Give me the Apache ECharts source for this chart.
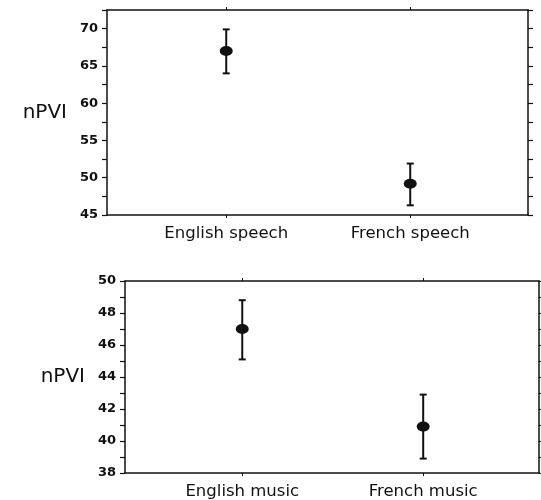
<!DOCTYPE html>
<html>
<head>
<meta charset="utf-8">
<script src="https://cdn.jsdelivr.net/npm/echarts@6/dist/echarts.min.js"></script>
<style>
  html, body { margin: 0; padding: 0; background: #fff; }
  #main { width: 541px; height: 500px; }
</style>
</head>
<body>
<div id="main"></div>
<script>
// top panel: speech
var speechCats = ["English speech", "French speech"];
var speechMean = [67.0, 49.2];
var speechLow = [64.0, 46.3];
var speechHigh = [69.9, 51.9];

// bottom panel: music
var musicCats = ["English music", "French music"];
var musicMean = [47.0, 40.9];
var musicLow = [45.1, 38.9];
var musicHigh = [48.8, 42.9];

var ink = "#111";
var font = "DejaVu Sans, Liberation Sans, Arial, sans-serif";

function errData(low, high) {
    return low.map(function (v, i) { return [i, v, high[i]]; });
}
function dotData(mean) {
    return mean.map(function (v, i) { return [i, v]; });
}

function renderErr(params, api) {
    var x = api.value(0);
    var lo = api.coord([x, api.value(1)]);
    var hi = api.coord([x, api.value(2)]);
    var cap = 3.5;
    var st = { stroke: ink, lineWidth: 2 };
    return {
        type: "group",
        children: [
            { type: "line", shape: { x1: lo[0], y1: lo[1], x2: hi[0], y2: hi[1] }, style: st },
            { type: "line", shape: { x1: lo[0] - cap, y1: lo[1], x2: lo[0] + cap, y2: lo[1] }, style: st },
            { type: "line", shape: { x1: hi[0] - cap, y1: hi[1], x2: hi[0] + cap, y2: hi[1] }, style: st }
        ]
    };
}

function catAxis(idx, cats, pos, showLabel) {
    return {
        type: "value",
        gridIndex: idx,
        position: pos,
        min: -0.648,
        max: 1.64,
        splitLine: { show: false },
        axisLine: { show: true, onZero: false, lineStyle: { color: ink, width: 1.5 } },
        axisTick: { show: true, customValues: [0, 1], length: 3, lineStyle: { color: ink } },
        axisLabel: {
            show: showLabel,
            customValues: [0, 1],
            margin: 10,
            color: ink,
            fontFamily: font,
            fontSize: 16.5,
            formatter: function (v) { return cats[Math.round(v)]; }
        }
    };
}

function valAxis(idx, min, max, step, every, pos, showLabel, showName) {
    return {
        type: "value",
        gridIndex: idx,
        position: pos,
        min: min,
        max: max,
        interval: step,
        name: showName ? "nPVI" : "",
        nameLocation: "middle",
        nameRotate: 0,
        nameGap: showName ? 40 : 0,
        nameTextStyle: { color: ink, fontFamily: font, fontSize: 20, align: "right" },
        splitLine: { show: false },
        axisLine: { show: true, onZero: false, lineStyle: { color: ink, width: 1.5 } },
        axisTick: { show: true, length: 5, lineStyle: { color: ink, width: 1.2 } },
        axisLabel: {
            show: showLabel,
            color: ink,
            fontFamily: font,
            fontSize: 13,
            fontWeight: "bold",
            margin: 9,
            formatter: function (v) {
                return Math.abs(v / every - Math.round(v / every)) < 1e-6 ? String(v) : "";
            }
        }
    };
}

var option = {
    backgroundColor: "#fff",
    animation: false,
    grid: [
        { left: 107, top: 10, width: 421, height: 205 },
        { left: 125, top: 281, width: 414, height: 192 }
    ],
    xAxis: [
        catAxis(0, speechCats, "bottom", true),
        catAxis(0, speechCats, "top", false),
        catAxis(1, musicCats, "bottom", true),
        catAxis(1, musicCats, "top", false)
    ],
    yAxis: [
        valAxis(0, 45, 72.5, 2.5, 5, "left", true, true),
        valAxis(0, 45, 72.5, 2.5, 5, "right", false, false),
        valAxis(1, 38, 50, 1, 2, "left", true, true),
        valAxis(1, 38, 50, 1, 2, "right", false, false)
    ],
    series: [
        {
            type: "custom",
            xAxisIndex: 0,
            yAxisIndex: 0,
            renderItem: renderErr,
            data: errData(speechLow, speechHigh)
        },
        {
            type: "scatter",
            xAxisIndex: 0,
            yAxisIndex: 0,
            symbol: "circle",
            symbolSize: [13, 10],
            itemStyle: { color: ink, opacity: 1 },
            data: dotData(speechMean)
        },
        {
            type: "custom",
            xAxisIndex: 2,
            yAxisIndex: 2,
            renderItem: renderErr,
            data: errData(musicLow, musicHigh)
        },
        {
            type: "scatter",
            xAxisIndex: 2,
            yAxisIndex: 2,
            symbol: "circle",
            symbolSize: [13, 10],
            itemStyle: { color: ink, opacity: 1 },
            data: dotData(musicMean)
        }
    ]
};

var chart = echarts.init(document.getElementById("main"));
chart.setOption(option);
</script>
</body>
</html>
